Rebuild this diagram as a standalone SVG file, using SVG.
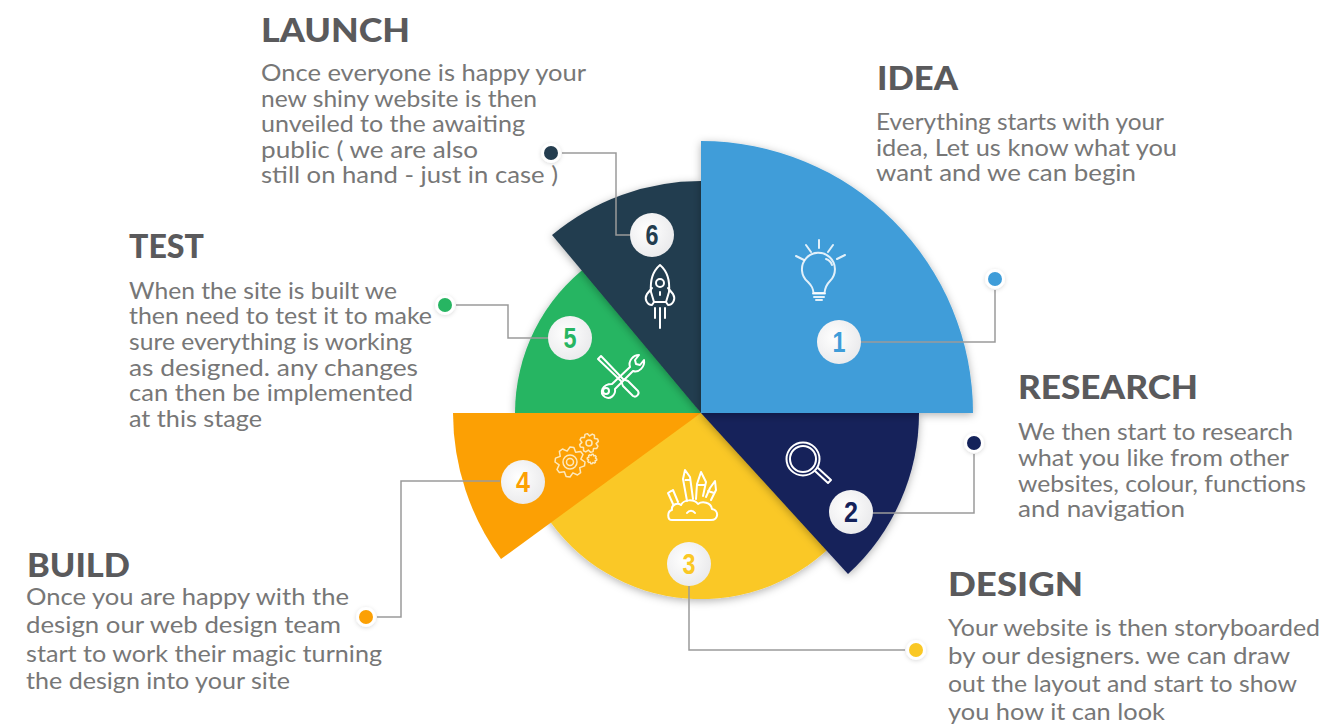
<svg xmlns="http://www.w3.org/2000/svg" width="1326" height="724" viewBox="0 0 1326 724">
<defs>
<filter id="sh" x="-20%" y="-20%" width="140%" height="140%"><feDropShadow dx="0" dy="2" stdDeviation="4" flood-color="#000" flood-opacity="0.3"/></filter>
<filter id="sh2" x="-50%" y="-50%" width="200%" height="200%"><feDropShadow dx="0" dy="1" stdDeviation="2" flood-color="#000" flood-opacity="0.15"/></filter>
<radialGradient id="disc" cx="0.4" cy="0.4" r="0.7"><stop offset="0" stop-color="#fff"/><stop offset="1" stop-color="#e8e8ea"/></radialGradient>
<path id="gear" d="M10 0L9.660 2.590L6.500 3.750L7.070 7.070L5 8.660L1.940 7.240L0 10L-2.590 9.660L-3.750 6.500L-7.070 7.070L-8.660 5L-7.240 1.940L-10 0L-9.660 -2.590L-6.500 -3.750L-7.070 -7.070L-5 -8.660L-1.940 -7.240L0 -10L2.590 -9.660L3.750 -6.500L7.070 -7.070L8.660 -5L7.240 -1.940Z" vector-effect="non-scaling-stroke"/>
</defs>
<style>
text{font-family:"Lato","Open Sans","Liberation Sans",sans-serif}
.h{font-size:33px;font-weight:900;fill:#5a5a5c}
.t{font-size:24px;font-weight:400;fill:#777}
.n{font-family:"Liberation Sans",sans-serif;font-size:29px;font-weight:700;text-anchor:middle}
.c{fill:none;stroke:#9a9a9a;stroke-width:1.500}
.i{fill:none;stroke:#fff;stroke-width:2;stroke-linecap:round;stroke-linejoin:round}
.d{fill:url(#disc)}
.halo{fill:#fff;filter:url(#sh2)}
</style>
<rect width="1326" height="724" fill="#fff"/>
<g id="sector-5"><path d="M701 413L515 413A186 186 0 0 1 590 264Z" fill="#27b562" filter="url(#sh)"/></g>
<g id="sector-6"><path d="M701 413L552 235A232 232 0 0 1 701 181Z" fill="#243d4f" filter="url(#sh)"/></g>
<g id="sector-3"><path d="M701 413L545 514A186 186 0 0 0 840 537Z" fill="#fac825" filter="url(#sh)"/></g>
<g id="sector-2"><path d="M701 413L919 413A218 218 0 0 1 848 574Z" fill="#14225a" filter="url(#sh)"/></g>
<g id="sector-4"><path d="M701 413L453 413A248 248 0 0 0 501 559Z" fill="#fca004"/></g>
<g id="sector-1"><path d="M701 413L701 141A272 272 0 0 1 973 413Z" fill="#3f9dd9" filter="url(#sh)"/></g>
<g id="connectors">
<path class="c" d="M860 342H995V290"/>
<path class="c" d="M872 513H974V454"/>
<path class="c" d="M689 586V650H905"/>
<path class="c" d="M500 481H401V617H377"/>
<path class="c" d="M548 338H508V305H456"/>
<path class="c" d="M630 235H616V153H562"/>
</g>
<g id="node-1">
<circle class="halo" cx="995" cy="279" r="10"/><circle cx="995" cy="279" r="7" fill="#3f9dd9"/>
<circle class="d" cx="839" cy="342" r="22"/><text class="n" x="839" y="352" fill="#3f9dd9" textLength="13" lengthAdjust="spacingAndGlyphs">1</text>
<g class="i" stroke-opacity=".85"><path d="M808 282a16.500 16.500 0 1 1 22 -1c-4 4 -5 7 -5.500 12h-11c-.5 -5 -1.500 -7 -5.500 -11z"/><path d="M813 293.500h12M814 297h10M816 300h6M796 256l8 4M806 245l5 7M819 240v8M833 245l-5 7M845 255l-8 4M826 259c3 1 5 3 6 6"/></g>
<text class="h" x="877" y="90" textLength="81" lengthAdjust="spacingAndGlyphs">IDEA</text>
<text class="t" x="876" y="130" textLength="288" lengthAdjust="spacingAndGlyphs">Everything starts with your</text>
<text class="t" x="876" y="156" textLength="301" lengthAdjust="spacingAndGlyphs">idea, Let us know what you</text>
<text class="t" x="876" y="181" textLength="260" lengthAdjust="spacingAndGlyphs">want and we can begin</text>
</g>
<g id="node-2">
<circle class="halo" cx="974" cy="443" r="10"/><circle cx="974" cy="443" r="7" fill="#14225a"/>
<circle class="d" cx="851" cy="512" r="22"/><text class="n" x="851" y="522" fill="#14225a" textLength="14" lengthAdjust="spacingAndGlyphs">2</text>
<g class="i" stroke-width="1.500"><circle cx="803" cy="459" r="16.500"/><circle cx="803" cy="459" r="13"/><path d="M815 471l13 12 3 -3 -13 -12"/></g>
<text class="h" x="1018" y="399" textLength="180" lengthAdjust="spacingAndGlyphs">RESEARCH</text>
<text class="t" x="1018" y="440" textLength="275" lengthAdjust="spacingAndGlyphs">We then start to research</text>
<text class="t" x="1018" y="466" textLength="271" lengthAdjust="spacingAndGlyphs">what you like from other</text>
<text class="t" x="1018" y="492" textLength="288" lengthAdjust="spacingAndGlyphs">websites, colour, functions</text>
<text class="t" x="1018" y="517" textLength="167" lengthAdjust="spacingAndGlyphs">and navigation</text>
</g>
<g id="node-3">
<circle class="halo" cx="916" cy="650" r="10"/><circle cx="916" cy="650" r="7" fill="#fac825"/>
<circle class="d" cx="689" cy="564" r="22"/><text class="n" x="689" y="574" fill="#fac825" textLength="13" lengthAdjust="spacingAndGlyphs">3</text>
<g class="i" stroke-width="1.700"><path d="M672 520h39c8 0 8 -10 1 -11c-1 -7 -10 -8 -14 -5c-4 -5 -14 -5 -17 1c-4 -3 -10 0 -9 5c-5 1 -5 10 0 10zM687 513c2 -3 6 -3 8 0"/><path d="M678 502l-5 -12 -5 3 5 11M668 493l3 -2M687 501l-4 -22 2 -9 5 7 3 22M685.500 480h5"/><path d="M696 499l1 -15 4 -12 5 10 -3 14M698 485h7"/><path d="M706 497l4 -9 5 -7 1 9 -5 10M708 491l6 2"/></g>
<text class="h" x="948" y="596" textLength="135" lengthAdjust="spacingAndGlyphs">DESIGN</text>
<text class="t" x="948" y="636" textLength="372" lengthAdjust="spacingAndGlyphs">Your website is then storyboarded</text>
<text class="t" x="948" y="664" textLength="342" lengthAdjust="spacingAndGlyphs">by our designers. we can draw</text>
<text class="t" x="948" y="692" textLength="349" lengthAdjust="spacingAndGlyphs">out the layout and start to show</text>
<text class="t" x="948" y="720" textLength="217" lengthAdjust="spacingAndGlyphs">you how it can look</text>
</g>
<g id="node-4">
<circle class="halo" cx="366" cy="617" r="10"/><circle cx="366" cy="617" r="7" fill="#fca004"/>
<circle class="d" cx="523" cy="482" r="22"/><text class="n" x="523" y="492" fill="#fca004" textLength="14" lengthAdjust="spacingAndGlyphs">4</text>
<g class="i" style="stroke:#fde8bc;stroke-width:1.500">
<use href="#gear" transform="translate(570 462) scale(1.500)"/><circle cx="570" cy="462" r="7"/><circle cx="570" cy="462" r="3.500"/>
<use href="#gear" transform="translate(589 443) rotate(20) scale(.95)"/><circle cx="589" cy="443" r="3"/>
<use href="#gear" transform="translate(592 459) scale(.48)"/></g>
<text class="h" x="27" y="577" textLength="103" lengthAdjust="spacingAndGlyphs">BUILD</text>
<text class="t" x="26" y="605" textLength="323" lengthAdjust="spacingAndGlyphs">Once you are happy with the</text>
<text class="t" x="26" y="633" textLength="315" lengthAdjust="spacingAndGlyphs">design our web design team</text>
<text class="t" x="26" y="662" textLength="356" lengthAdjust="spacingAndGlyphs">start to work their magic turning</text>
<text class="t" x="26" y="689" textLength="264" lengthAdjust="spacingAndGlyphs">the design into your site</text>
</g>
<g id="node-5">
<circle class="halo" cx="445" cy="305" r="10"/><circle cx="445" cy="305" r="7" fill="#27b562"/>
<circle class="d" cx="570" cy="338" r="22"/><text class="n" x="570" y="348" fill="#27b562" textLength="13" lengthAdjust="spacingAndGlyphs">5</text>
<g class="i" stroke-width="1.700"><path d="M598 359l3 -3 22 23 5 2 10 10c2 3 -2 7 -5 5l-10 -10 -2 -5z"/><path d="M612 384l18 -17c-2 -6 3 -12 9 -12l-4 5 1 4 4 1 4 -5c1 7 -5 13 -11 11l-18 18c1 6 -5 11 -10 8 -6 -4 -3 -13 7 -13z"/><circle cx="606" cy="391" r="3"/></g>
<text class="h" x="129" y="258" textLength="75" lengthAdjust="spacingAndGlyphs">TEST</text>
<text class="t" x="129" y="299" textLength="268" lengthAdjust="spacingAndGlyphs">When the site is built we</text>
<text class="t" x="129" y="324" textLength="303" lengthAdjust="spacingAndGlyphs">then need to test it to make</text>
<text class="t" x="129" y="350" textLength="283" lengthAdjust="spacingAndGlyphs">sure everything is working</text>
<text class="t" x="129" y="376" textLength="289" lengthAdjust="spacingAndGlyphs">as designed. any changes</text>
<text class="t" x="129" y="401" textLength="284" lengthAdjust="spacingAndGlyphs">can then be implemented</text>
<text class="t" x="129" y="427" textLength="133" lengthAdjust="spacingAndGlyphs">at this stage</text>
</g>
<g id="node-6">
<circle class="halo" cx="551" cy="153" r="10"/><circle cx="551" cy="153" r="7" fill="#243d4f"/>
<circle class="d" cx="652" cy="235" r="22"/><text class="n" x="652" y="245" fill="#243d4f" textLength="13" lengthAdjust="spacingAndGlyphs">6</text>
<g class="i" stroke-width="1.700"><path d="M660 265c7 6 10 16 9 27l-3 10h-12l-3 -10c-1 -11 2 -21 9 -27z"/><circle cx="660" cy="283" r="4"/><path d="M652 288l-5 6c-3 5 0 11 5 11l2 -3M668 288l5 6c3 5 0 11 -5 11l-2 -3M655 308v10M660 308v20M665 308v10M660 292v3"/></g>
<text class="h" x="261" y="42" textLength="149" lengthAdjust="spacingAndGlyphs">LAUNCH</text>
<text class="t" x="261" y="81" textLength="325" lengthAdjust="spacingAndGlyphs">Once everyone is happy your</text>
<text class="t" x="261" y="107" textLength="276" lengthAdjust="spacingAndGlyphs">new shiny website is then</text>
<text class="t" x="261" y="132" textLength="264" lengthAdjust="spacingAndGlyphs">unveiled to the awaiting</text>
<text class="t" x="261" y="158" textLength="217" lengthAdjust="spacingAndGlyphs">public ( we are also</text>
<text class="t" x="261" y="183" textLength="297" lengthAdjust="spacingAndGlyphs">still on hand - just in case )</text>
</g>
</svg>
